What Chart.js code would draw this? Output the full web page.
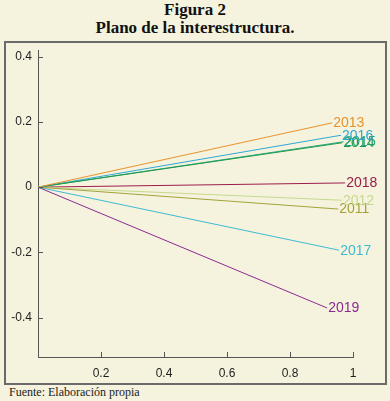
<!DOCTYPE html>
<html>
<head>
<meta charset="utf-8">
<script src="https://cdn.jsdelivr.net/npm/chart.js@4/dist/chart.umd.min.js"></script>
<style>
  html, body { margin:0; padding:0; width:390px; height:401px; background:#f5f3dd; overflow:hidden; }
  #title { position:absolute; left:0; top:0; width:390px; text-align:center; font-family:"Liberation Serif","Times New Roman",serif; font-weight:bold; font-size:17px; line-height:18px; color:#111; padding-top:1px; }
  #box { position:absolute; left:4px; top:41px; width:379px; height:340px; border:2px solid #6a6a6a; }
  #foot { position:absolute; left:9px; top:385px; font-family:"Liberation Serif","Times New Roman",serif; font-size:12px; color:#222; }
  #wrap { position:absolute; left:0; top:0; width:390px; height:401px; }
</style>
</head>
<body>
<div id="title">Figura 2<br>Plano de la interestructura.</div>
<div id="box"></div>
<div id="foot">Fuente: Elaboración propia</div>
<div id="wrap"><canvas id="c" width="390" height="401"></canvas></div>
<script>
const years = ["2011","2012","2013","2014","2015","2016","2017","2018","2019"];
const xEnd  = [0.953, 0.965, 0.934, 0.966, 0.970, 0.962, 0.956, 0.975, 0.918];
const yEnd  = [-0.067, -0.040, 0.197, 0.136, 0.139, 0.159, -0.193, 0.013, -0.370];
const colors = ["#a2a23a","#c6d88e","#e8922e","#1f9a4a","#27a385","#2fa7d6","#3fbad2","#9b1c4b","#8b2b8f"];
const xTicks = [0.2, 0.4, 0.6, 0.8, 1];
const yTicks = [-0.4, -0.2, 0, 0.2, 0.4];

const datasets = years.map((yr, i) => ({
  label: yr,
  data: [{x:0, y:0}, {x:xEnd[i], y:yEnd[i]}],
  borderColor: colors[i],
  backgroundColor: colors[i],
  borderWidth: 1,
  pointRadius: 0,
  tension: 0
}));

const endLabels = {
  id: 'endLabels',
  afterDatasetsDraw(chart) {
    const ctx = chart.ctx;
    ctx.save();
    ctx.font = '14px "Liberation Sans", Arial, sans-serif';
    ctx.textAlign = 'left';
    ctx.textBaseline = 'middle';
    chart.data.datasets.forEach((ds, i) => {
      const pt = chart.getDatasetMeta(i).data[1];
      ctx.fillStyle = colors[i];
      ctx.fillText(ds.label, pt.x + 1, pt.y + 0.5);
    });
    ctx.restore();
  }
};

const innerTicks = {
  id: 'innerTicks',
  afterDraw(chart) {
    const ctx = chart.ctx, xs = chart.scales.x, ys = chart.scales.y;
    const a = chart.chartArea;
    ctx.save();
    ctx.strokeStyle = '#555';
    ctx.lineWidth = 1;
    ctx.beginPath();
    yTicks.forEach(v => {
      const py = Math.round(ys.getPixelForValue(v)) + 0.5;
      ctx.moveTo(a.left, py); ctx.lineTo(a.left + 5, py);
    });
    xTicks.forEach(v => {
      const px = Math.round(xs.getPixelForValue(v)) + 0.5;
      ctx.moveTo(px, a.bottom); ctx.lineTo(px, a.bottom - 5);
    });
    ctx.stroke();
    ctx.restore();
  }
};

new Chart(document.getElementById('c'), {
  type: 'line',
  data: { datasets },
  options: {
    responsive: false,
    animation: false,
    layout: { padding: { left: 0, right: 37, top: 50, bottom: 0 } },
    plugins: { legend: { display: false }, tooltip: { enabled: false } },
    scales: {
      x: {
        type: 'linear', min: 0, max: 1,
        afterFit(s) { s.height = 44; },
        afterBuildTicks(s) { s.ticks = xTicks.map(v => ({ value: v })); },
        grid: { display: true, drawOnChartArea: false, drawTicks: false },
        border: { display: true, color: '#555', width: 1 },
        ticks: {
          padding: 9, color: '#1e1e1e',
          font: { family: '"Liberation Sans", Arial, sans-serif', size: 12 },
          callback: v => String(v)
        }
      },
      y: {
        type: 'linear', min: -0.52, max: 0.42,
        afterFit(s) { s.width = 38; },
        afterBuildTicks(s) { s.ticks = yTicks.map(v => ({ value: v })); },
        grid: { display: true, drawOnChartArea: false, drawTicks: false },
        border: { display: true, color: '#555', width: 1 },
        ticks: {
          padding: 6, color: '#1e1e1e',
          font: { family: '"Liberation Sans", Arial, sans-serif', size: 12 },
          callback: v => String(Math.round(v * 10) / 10)
        }
      }
    }
  },
  plugins: [endLabels, innerTicks]
});
</script>
</body>
</html>
